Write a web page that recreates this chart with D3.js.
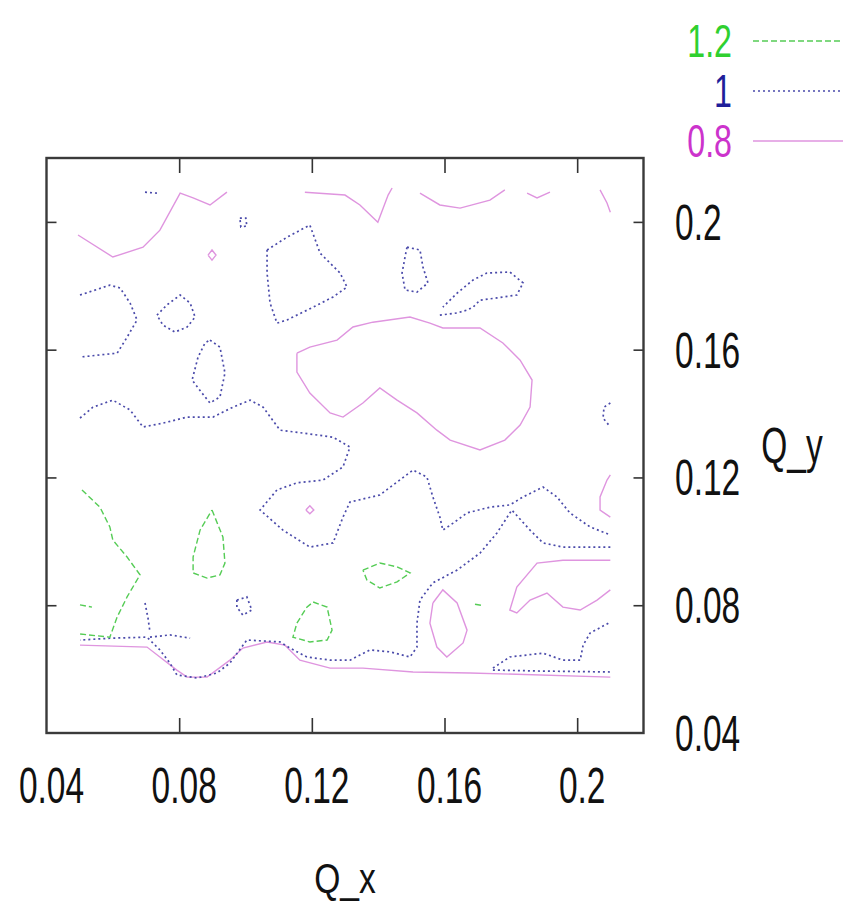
<!DOCTYPE html>
<html>
<head>
<meta charset="utf-8">
<script src="https://cdn.jsdelivr.net/npm/d3@7"></script>
<style>
  body { margin: 0; background: #fff; }
  text { font-family: "Liberation Sans", Arial, sans-serif; }
</style>
</head>
<body>
<div id="chart"></div>
<script>
// tick values and contour levels
var xTicks = [0.04, 0.08, 0.12, 0.16, 0.2];
var yTicks = [0.04, 0.08, 0.12, 0.16, 0.2];
var levels = ["1.2", "1", "0.8"];

// contour paths for level 1.2 (Q_x, Q_y)
var contours12 = [
  [[0.0507,0.1161],[0.0561,0.1107],[0.0591,0.1045],[0.0600,0.1004],[0.0643,0.0951],[0.0682,0.0895],[0.0643,0.0826],[0.0613,0.0763],[0.0591,0.0700],[0.0501,0.0710]],
  [[0.0501,0.0801],[0.0537,0.0794]],
  [[0.0899,0.1098],[0.0932,0.1013],[0.0938,0.0932],[0.0923,0.0895],[0.0884,0.0885],[0.0842,0.0901],[0.0842,0.0951],[0.0863,0.1035],[0.0899,0.1098]],
  [[0.1204,0.0810],[0.1246,0.0794],[0.1261,0.0722],[0.1246,0.0691],[0.1194,0.0685],[0.1143,0.0700],[0.1155,0.0744],[0.1185,0.0794],[0.1204,0.0810]],
  [[0.1354,0.0910],[0.1405,0.0932],[0.1457,0.0920],[0.1496,0.0901],[0.1457,0.0873],[0.1405,0.0854],[0.1366,0.0879],[0.1354,0.0910]],
  [[0.1692,0.0803],[0.1710,0.0800]]
];

// contour paths for level 1
var contours10 = [
  [[0.0501,0.1386],[0.0540,0.1420],[0.0600,0.1442],[0.0652,0.1411],[0.0691,0.1358],[0.0751,0.1370],[0.0824,0.1389],[0.0902,0.1389],[0.0962,0.1420],[0.1014,0.1442],[0.1053,0.1420],[0.1104,0.1348],[0.1173,0.1339],[0.1264,0.1326],[0.1315,0.1295],[0.1294,0.1233],[0.1234,0.1192],[0.1155,0.1183],[0.1095,0.1161],[0.1044,0.1098],[0.1113,0.1035],[0.1194,0.0982],[0.1264,0.0995],[0.1294,0.1076],[0.1315,0.1123],[0.1405,0.1145],[0.1505,0.1223],[0.1547,0.1201],[0.1565,0.1139],[0.1586,0.1076],[0.1595,0.1035],[0.1626,0.1057],[0.1668,0.1089],[0.1737,0.1107],[0.1797,0.1114],[0.1837,0.1139],[0.1897,0.1170],[0.1939,0.1139],[0.1978,0.1089],[0.2039,0.1045],[0.2100,0.1020]],
  [[0.2100,0.0982],[0.1957,0.0982],[0.1897,0.0995],[0.1858,0.1035],[0.1803,0.1098],[0.1758,0.1026],[0.1707,0.0963],[0.1638,0.0910],[0.1565,0.0870],[0.1526,0.0816],[0.1517,0.0744],[0.1517,0.0669],[0.1496,0.0638],[0.1436,0.0654],[0.1375,0.0660],[0.1315,0.0628],[0.1255,0.0628],[0.1185,0.0638],[0.1134,0.0666],[0.1104,0.0685],[0.1004,0.0691],[0.0953,0.0619],[0.0914,0.0588],[0.0854,0.0572],[0.0793,0.0582],[0.0772,0.0619],[0.0742,0.0660],[0.0703,0.0700],[0.0600,0.0697],[0.0501,0.0691]],
  [[0.0697,0.0807],[0.0706,0.0760],[0.0712,0.0716]],
  [[0.0712,0.0700],[0.0772,0.0707],[0.0833,0.0697]],
  [[0.1746,0.0603],[0.1797,0.0638],[0.1897,0.0650],[0.1957,0.0628],[0.2009,0.0628],[0.2018,0.0675],[0.2039,0.0713],[0.2100,0.0747]],
  [[0.1746,0.0597],[0.1888,0.0594],[0.2100,0.0591]],
  [[0.0501,0.1771],[0.0591,0.1802],[0.0622,0.1793],[0.0652,0.1746],[0.0673,0.1693],[0.0643,0.1639],[0.0613,0.1589],[0.0501,0.1577]],
  [[0.0733,0.1708],[0.0763,0.1740],[0.0803,0.1771],[0.0833,0.1746],[0.0848,0.1702],[0.0824,0.1671],[0.0787,0.1655],[0.0751,0.1677],[0.0733,0.1708]],
  [[0.0893,0.1630],[0.0923,0.1608],[0.0938,0.1527],[0.0923,0.1452],[0.0893,0.1433],[0.0869,0.1464],[0.0839,0.1505],[0.0857,0.1577],[0.0878,0.1621],[0.0893,0.1630]],
  [[0.0983,0.2012],[0.1001,0.2012],[0.1004,0.1987],[0.0986,0.1984],[0.0983,0.2012]],
  [[0.1065,0.1912],[0.1125,0.1952],[0.1194,0.1990],[0.1225,0.1902],[0.1285,0.1840],[0.1306,0.1796],[0.1264,0.1765],[0.1204,0.1733],[0.1125,0.1693],[0.1095,0.1683],[0.1074,0.1746],[0.1065,0.1840],[0.1065,0.1912]],
  [[0.1487,0.1921],[0.1526,0.1912],[0.1535,0.1859],[0.1550,0.1809],[0.1517,0.1780],[0.1481,0.1787],[0.1472,0.1840],[0.1481,0.1890],[0.1487,0.1921]],
  [[0.1586,0.1708],[0.1638,0.1715],[0.1668,0.1724],[0.1686,0.1733],[0.1707,0.1755],[0.1758,0.1762],[0.1818,0.1771],[0.1837,0.1809],[0.1797,0.1843],[0.1728,0.1840],[0.1686,0.1818],[0.1638,0.1777],[0.1595,0.1733]],
  [[0.2100,0.1433],[0.2081,0.1420],[0.2078,0.1386],[0.2100,0.1358]],
  [[0.0974,0.0816],[0.1004,0.0826],[0.1019,0.0785],[0.0992,0.0769],[0.0974,0.0794],[0.0974,0.0816]],
  [[0.0697,0.2093],[0.0733,0.2090]]
];

// contour paths for level 0.8
var contours08 = [
  [[0.0495,0.1959],[0.0600,0.1890],[0.0691,0.1921],[0.0742,0.1974],[0.0803,0.2090],[0.0842,0.2075],[0.0893,0.2053],[0.0944,0.2093]],
  [[0.0887,0.1896],[0.0899,0.1912],[0.0911,0.1896],[0.0899,0.1880],[0.0887,0.1896]],
  [[0.1179,0.2093],[0.1300,0.2084],[0.1345,0.2053],[0.1399,0.1999],[0.1430,0.2084],[0.1442,0.2106]],
  [[0.1526,0.2090],[0.1586,0.2053],[0.1647,0.2043],[0.1737,0.2068],[0.1782,0.2100]],
  [[0.1849,0.2090],[0.1879,0.2075],[0.1918,0.2093]],
  [[0.2069,0.2100],[0.2090,0.2059],[0.2100,0.2030]],
  [[0.1155,0.1589],[0.1194,0.1608],[0.1276,0.1630],[0.1324,0.1671],[0.1384,0.1686],[0.1496,0.1702],[0.1556,0.1683],[0.1595,0.1668],[0.1707,0.1668],[0.1776,0.1621],[0.1828,0.1567],[0.1864,0.1505],[0.1858,0.1420],[0.1828,0.1364],[0.1782,0.1317],[0.1707,0.1286],[0.1617,0.1317],[0.1577,0.1348],[0.1517,0.1402],[0.1457,0.1442],[0.1405,0.1480],[0.1354,0.1433],[0.1294,0.1389],[0.1255,0.1402],[0.1194,0.1464],[0.1155,0.1530],[0.1155,0.1589]],
  [[0.1182,0.1098],[0.1194,0.1111],[0.1206,0.1098],[0.1194,0.1086],[0.1182,0.1098]],
  [[0.2100,0.1208],[0.2090,0.1192],[0.2069,0.1139],[0.2069,0.1098],[0.2100,0.1076]],
  [[0.2100,0.0941],[0.1957,0.0941],[0.1879,0.0932],[0.1818,0.0857],[0.1797,0.0785],[0.1818,0.0776],[0.1858,0.0816],[0.1909,0.0838],[0.1957,0.0794],[0.2009,0.0785],[0.2060,0.0816],[0.2100,0.0848]],
  [[0.1565,0.0807],[0.1595,0.0848],[0.1638,0.0807],[0.1668,0.0722],[0.1656,0.0682],[0.1607,0.0638],[0.1577,0.0669],[0.1556,0.0744],[0.1565,0.0807]],
  [[0.0501,0.0675],[0.0703,0.0669],[0.0793,0.0597],[0.0824,0.0575],[0.0884,0.0575],[0.0953,0.0628],[0.0992,0.0666],[0.1065,0.0685],[0.1119,0.0675],[0.1164,0.0628],[0.1255,0.0603],[0.1354,0.0603],[0.1505,0.0591],[0.1677,0.0588],[0.2100,0.0575]]
];

var W = 848, H = 906;
var box = { left: 46.5, right: 643.5, top: 158, bottom: 733 };

var svg = d3.select("#chart").append("svg")
    .attr("width", W)
    .attr("height", H);

var x = d3.scaleLinear().domain([0.04, 0.22]).range([box.left, box.right]);
var y = d3.scaleLinear().domain([0.04, 0.22]).range([box.bottom, box.top]);

// line styles per level
var styles = {
  "1.2": { color: "#55cc55", text: "#2fd02f", dash: "6,3", width: 1.4, data: contours12 },
  "1":   { color: "#4a4aaa", text: "#1f1f9a", dash: "2,3", width: 1.7, data: contours10 },
  "0.8": { color: "#df95df", text: "#cc33cc", dash: null,  width: 1.4, data: contours08 }
};

var line = d3.line()
    .x(function (d) { return x(d[0]); })
    .y(function (d) { return y(d[1]); });

// contours
levels.slice().reverse().forEach(function (lv) {
  var s = styles[lv];
  svg.append("g")
    .selectAll("path")
    .data(s.data)
    .join("path")
    .attr("d", line)
    .attr("fill", "none")
    .attr("stroke", s.color)
    .attr("stroke-width", s.width)
    .attr("stroke-dasharray", s.dash);
});

// ticks on all four sides, pointing in
var tickX = xTicks.filter(function (d) { return d > 0.04; });
var tickY = yTicks.filter(function (d) { return d > 0.04; });

svg.append("g")
  .attr("transform", "translate(0," + box.bottom + ")")
  .call(d3.axisBottom(x).tickValues(tickX).tickSize(-15).tickFormat(""))
  .call(function (g) { g.select(".domain").remove(); });
svg.append("g")
  .attr("transform", "translate(0," + box.top + ")")
  .call(d3.axisTop(x).tickValues(tickX).tickSize(-15).tickFormat(""))
  .call(function (g) { g.select(".domain").remove(); });
svg.append("g")
  .attr("transform", "translate(" + box.left + ",0)")
  .call(d3.axisLeft(y).tickValues(tickY).tickSize(-10).tickFormat(""))
  .call(function (g) { g.select(".domain").remove(); });
svg.append("g")
  .attr("transform", "translate(" + box.right + ",0)")
  .call(d3.axisRight(y).tickValues(tickY).tickSize(-10).tickFormat(""))
  .call(function (g) { g.select(".domain").remove(); });

svg.selectAll(".tick line").attr("stroke", "#333").attr("stroke-width", 1.6);

svg.append("rect")
  .attr("x", box.left)
  .attr("y", box.top)
  .attr("width", box.right - box.left)
  .attr("height", box.bottom - box.top)
  .attr("fill", "none")
  .attr("stroke", "#3a3a3a")
  .attr("stroke-width", 2.4);

// narrow, tall text like the original
function label(px, py, str, size, sx, anchor, color) {
  svg.append("g")
    .attr("transform", "translate(" + px + "," + py + ") scale(" + sx + ",1)")
    .append("text")
    .attr("text-anchor", anchor)
    .attr("font-size", size)
    .attr("fill", color || "#111")
    .text(str);
}

xTicks.forEach(function (t) {
  label(x(t) + 5, 803, String(t), 50, 0.67, "middle");
});
yTicks.forEach(function (t) {
  label(675, y(t) + 18, String(t), 50, 0.67, "start");
});

label(345, 893, "Q_x", 42, 0.8, "middle");
label(792, 463, "Q_y", 50, 0.67, "middle");

// legend
var legendY = [41, 91, 141];
levels.forEach(function (lv, i) {
  var s = styles[lv];
  label(732, legendY[i] + 16, lv, 46, 0.7, "end", s.text);
  svg.append("line")
    .attr("x1", 753).attr("x2", 843)
    .attr("y1", legendY[i]).attr("y2", legendY[i])
    .attr("stroke", s.color)
    .attr("stroke-width", s.width)
    .attr("stroke-dasharray", s.dash);
});
</script>
</body>
</html>
